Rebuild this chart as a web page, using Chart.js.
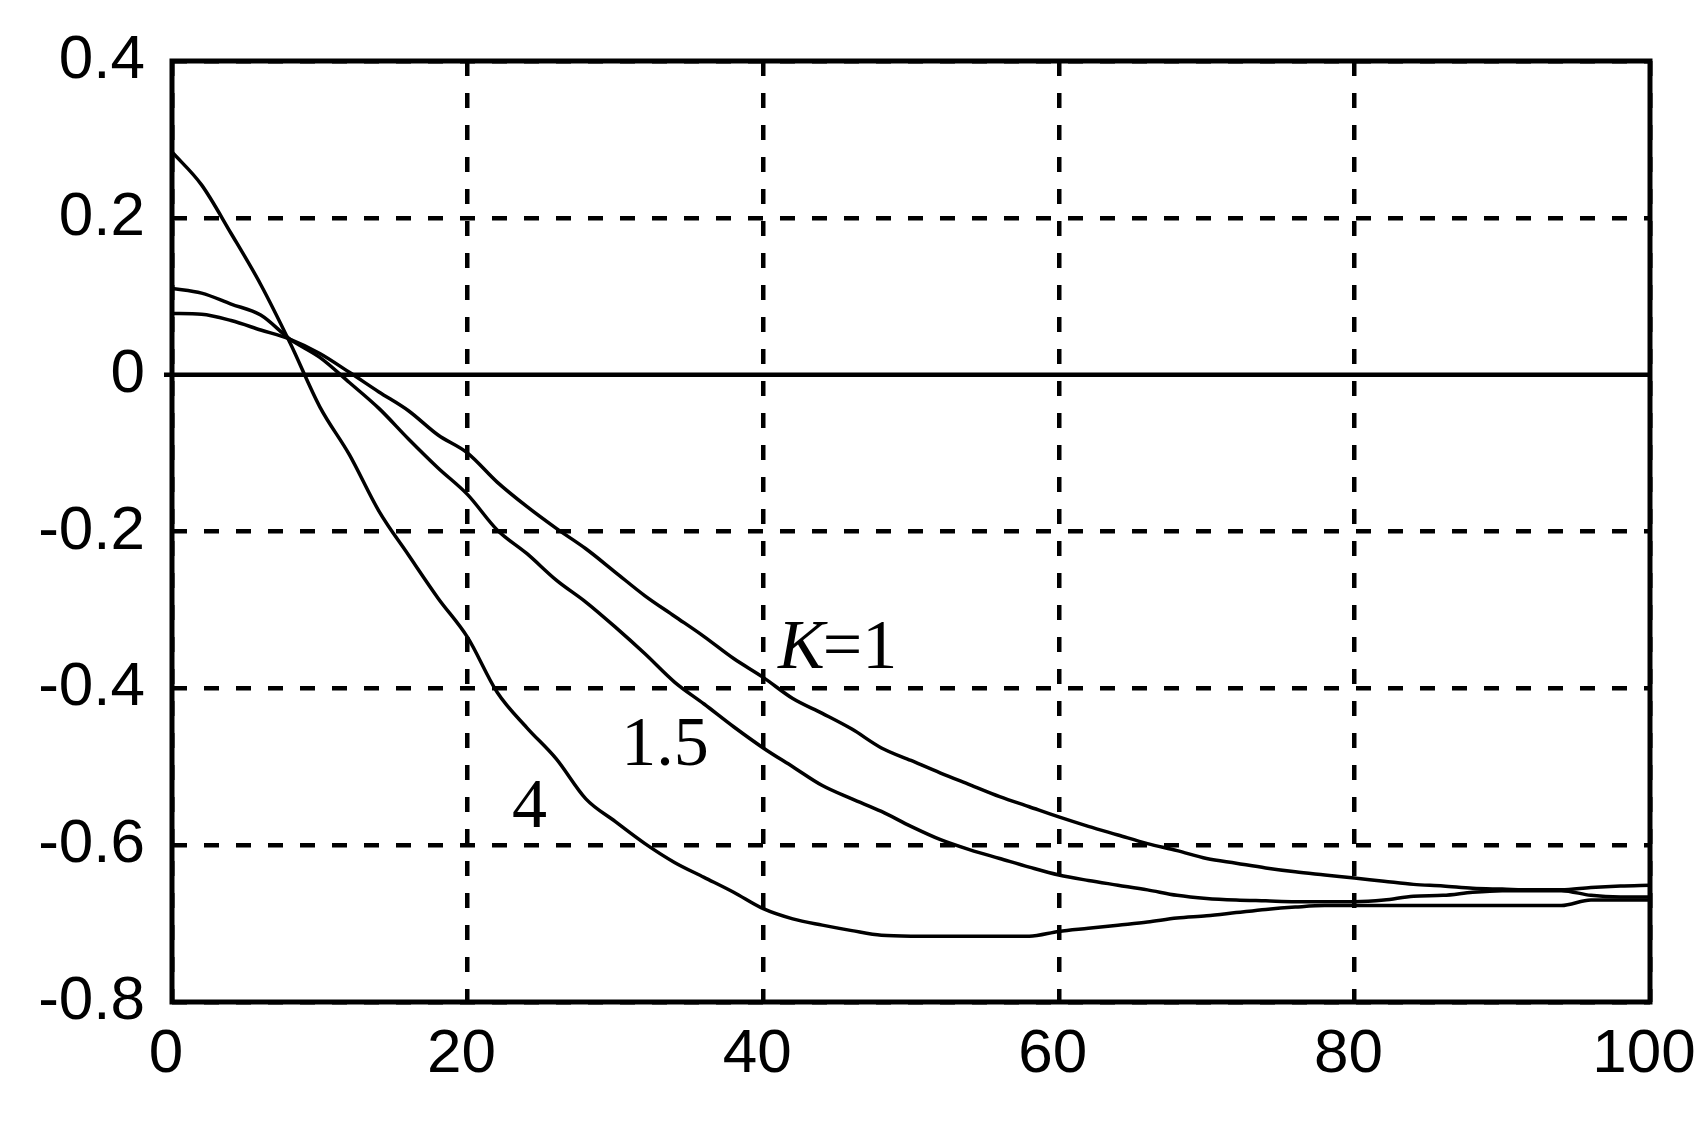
<!DOCTYPE html>
<html>
<head>
<meta charset="utf-8">
<script src="https://cdn.jsdelivr.net/npm/chart.js@4"></script>
<style>
  body { margin: 0; background: #fff; }
  canvas { display: block; }
</style>
</head>
<body>
<canvas id="respChart" width="1703" height="1130"></canvas>
<script>
// values
const xs = [0, 2, 4, 6, 8, 10, 12, 14, 16, 18, 20, 22, 24, 26, 28, 30, 32, 34, 36, 38, 40,
    42, 44, 46, 48, 50, 52, 54, 56, 58, 60, 62, 64, 66, 68, 70, 72, 74, 76, 78, 80,
    82, 84, 86, 88, 90, 92, 94, 96, 98, 100];

const k1 = [0.078, 0.077, 0.069, 0.057, 0.045, 0.027, 0.003, -0.022, -0.046, -0.077, -0.100,
    -0.137, -0.168, -0.196, -0.222, -0.252, -0.282, -0.308, -0.334, -0.362, -0.386,
    -0.413, -0.432, -0.452, -0.476, -0.492, -0.508, -0.523, -0.538, -0.551, -0.564,
    -0.576, -0.587, -0.598, -0.607, -0.617, -0.623, -0.629, -0.634, -0.638, -0.642,
    -0.646, -0.650, -0.652, -0.655, -0.656, -0.657, -0.657, -0.654, -0.652, -0.651];

const k15 = [0.110, 0.104, 0.090, 0.076, 0.045, 0.022, -0.010, -0.043, -0.082, -0.119, -0.153,
    -0.198, -0.228, -0.262, -0.290, -0.322, -0.356, -0.392, -0.420, -0.449, -0.476,
    -0.500, -0.524, -0.541, -0.557, -0.576, -0.593, -0.606, -0.617, -0.628, -0.638,
    -0.645, -0.651, -0.657, -0.664, -0.668, -0.670, -0.671, -0.672, -0.672, -0.672,
    -0.670, -0.665, -0.664, -0.660, -0.658, -0.658, -0.658, -0.664, -0.666, -0.666];

const k4 = [0.284, 0.242, 0.180, 0.115, 0.040, -0.041, -0.102, -0.174, -0.230, -0.285, -0.335,
    -0.405, -0.450, -0.490, -0.541, -0.570, -0.598, -0.622, -0.641, -0.660, -0.681,
    -0.694, -0.702, -0.709, -0.715, -0.716, -0.716, -0.716, -0.716, -0.716, -0.710,
    -0.706, -0.702, -0.698, -0.693, -0.690, -0.686, -0.682, -0.679, -0.677, -0.677,
    -0.677, -0.677, -0.677, -0.677, -0.677, -0.677, -0.677, -0.670, -0.670, -0.670];

const xTickLabels = ["0", "20", "40", "60", "80", "100"];
const yTickLabels = ["-0.8", "-0.6", "-0.4", "-0.2", "0", "0.2", "0.4"];

// curve labels: text, italic prefix, anchor (data units, left / baseline)
const curveLabels = [
    { italic: "K", text: "=1", x: 41.0, y: -0.374 },
    { italic: "", text: "1.5", x: 30.4, y: -0.498 },
    { italic: "", text: "4", x: 23.0, y: -0.577 }
];

function toPoints(ys) {
    return xs.map((x, i) => ({ x: x, y: ys[i] }));
}

const tickFont = { family: '"Liberation Sans", Arial, sans-serif', size: 62 };
const dash = [15, 17];

// frame, solid zero line and curve labels
const framePlugin = {
    id: "frame",
    beforeDatasetsDraw(chart) {
        const { ctx, chartArea, scales } = chart;
        const y0 = scales.y.getPixelForValue(0);
        ctx.save();
        ctx.strokeStyle = "#000";
        ctx.lineWidth = 4.5;
        ctx.setLineDash([]);
        ctx.beginPath();
        ctx.moveTo(chartArea.left - 8, y0);
        ctx.lineTo(chartArea.right, y0);
        ctx.stroke();
        ctx.restore();
    },
    afterDatasetsDraw(chart) {
        const { ctx, chartArea, scales } = chart;
        ctx.save();
        ctx.strokeStyle = "#000";
        ctx.lineWidth = 5;
        ctx.setLineDash([]);
        ctx.strokeRect(chartArea.left, chartArea.top, chartArea.right - chartArea.left, chartArea.bottom - chartArea.top);

        ctx.fillStyle = "#000";
        ctx.textBaseline = "alphabetic";
        ctx.textAlign = "left";
        curveLabels.forEach(l => {
            let px = scales.x.getPixelForValue(l.x);
            const py = scales.y.getPixelForValue(l.y);
            if (l.italic) {
                ctx.font = 'italic 70px "Liberation Serif", serif';
                ctx.fillText(l.italic, px, py);
                px += ctx.measureText(l.italic).width - 2;
            }
            ctx.font = '70px "Liberation Serif", serif';
            ctx.fillText(l.text, px, py);
        });
        ctx.restore();
    }
};

const line = (label, ys) => ({
    label: label,
    data: toPoints(ys),
    borderColor: "#000",
    borderWidth: 3.5,
    pointRadius: 0,
    fill: false,
    cubicInterpolationMode: "monotone"
});

new Chart(document.getElementById("respChart"), {
    type: "line",
    data: {
        datasets: [line("K=1", k1), line("1.5", k15), line("4", k4)]
    },
    options: {
        responsive: false,
        animation: false,
        layout: { padding: { top: 61, right: 53, left: 0, bottom: 0 } },
        plugins: { legend: { display: false }, tooltip: { enabled: false } },
        scales: {
            x: {
                type: "linear",
                min: 0,
                max: 100,
                afterFit: s => { s.height = 128; s.paddingLeft = 0; s.paddingRight = 0; },
                ticks: {
                    stepSize: 20,
                    padding: 16,
                    color: "#000",
                    font: tickFont,
                    maxRotation: 0,
                    labelOffset: -6,
                    callback: (v, i) => xTickLabels[i]
                },
                grid: { color: "#000", lineWidth: 4.5, drawTicks: false },
                border: { display: false, dash: dash }
            },
            y: {
                type: "linear",
                min: -0.8,
                max: 0.4,
                afterFit: s => { s.width = 172; s.paddingTop = 0; s.paddingBottom = 0; },
                ticks: {
                    stepSize: 0.2,
                    padding: 27,
                    color: "#000",
                    font: tickFont,
                    callback: (v, i) => yTickLabels[i]
                },
                grid: {
                    color: c => (c.tick && Math.abs(c.tick.value) < 1e-9) ? "rgba(0,0,0,0)" : "#000",
                    lineWidth: 4.5,
                    drawTicks: false
                },
                border: { display: false, dash: dash }
            }
        }
    },
    plugins: [framePlugin]
});
</script>
</body>
</html>
